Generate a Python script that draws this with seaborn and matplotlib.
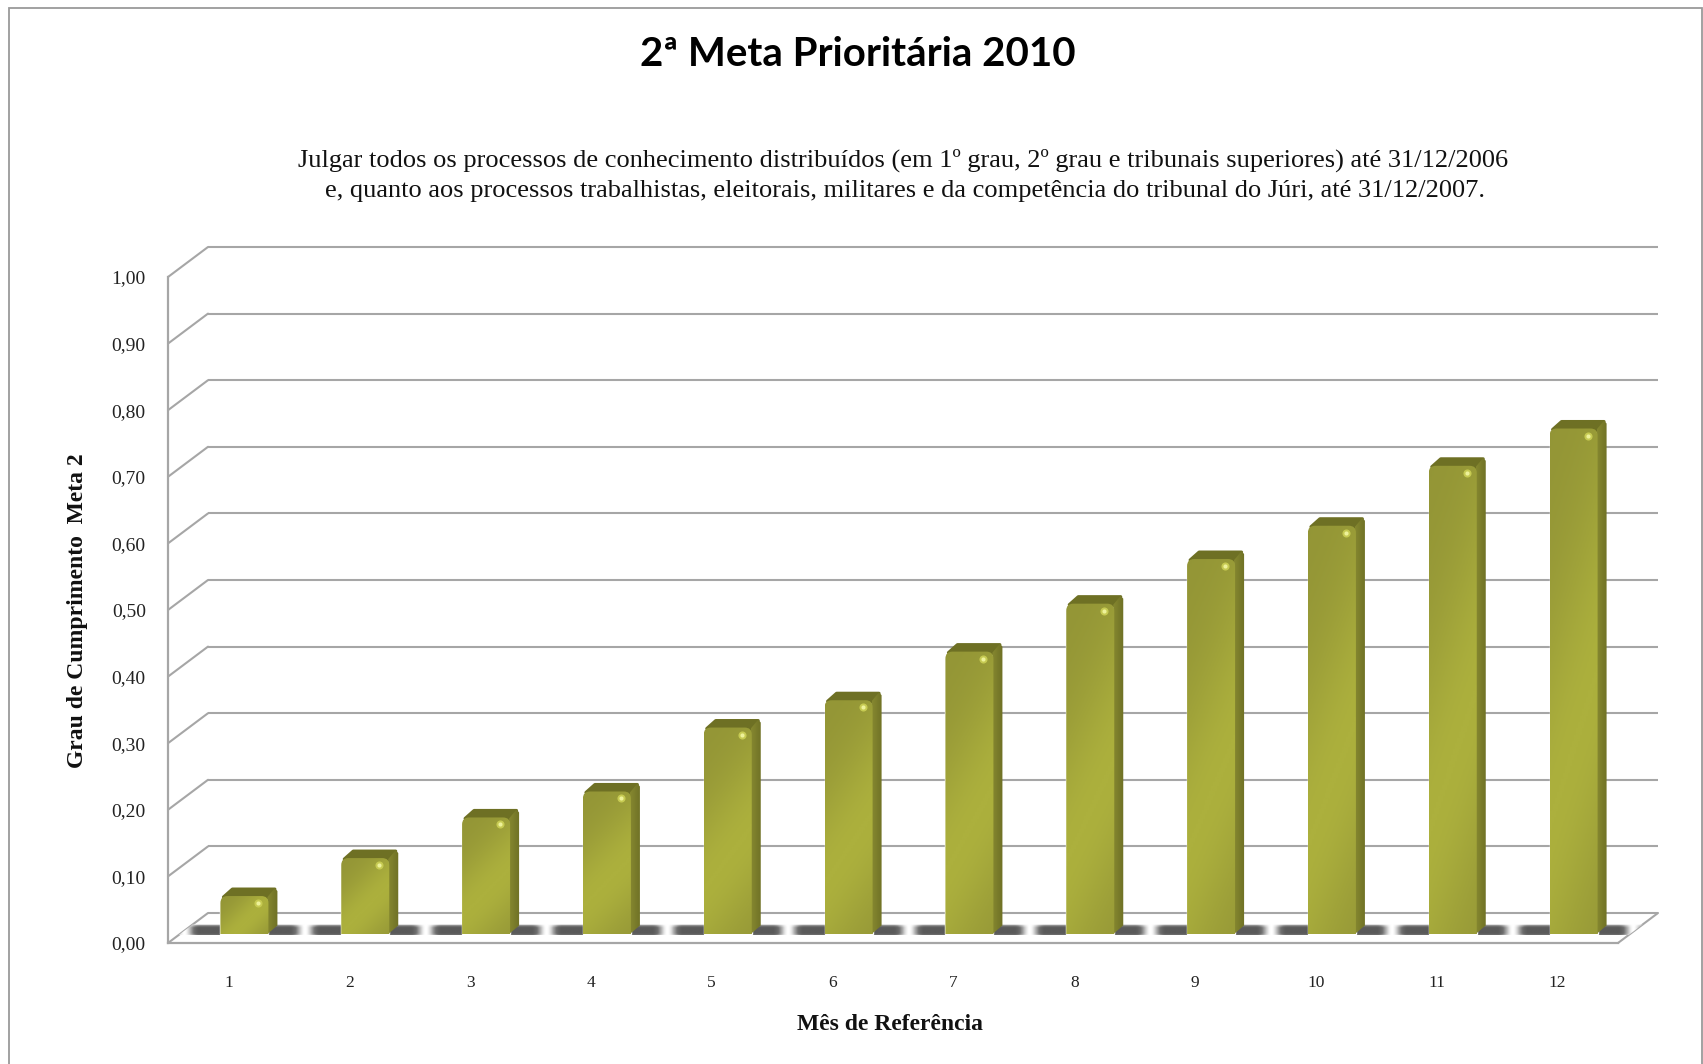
import numpy as np
import pandas as pd
import matplotlib
matplotlib.use("Agg")
import matplotlib.pyplot as plt
import seaborn as sns
from matplotlib.colors import LinearSegmentedColormap
from matplotlib.patches import PathPatch, Polygon, Rectangle
from matplotlib.path import Path

# ---- data -------------------------------------------------------------
months = ["1", "2", "3", "4", "5", "6", "7", "8", "9", "10", "11", "12"]
compliance = [0.057, 0.114, 0.175, 0.214, 0.310, 0.351, 0.424, 0.496, 0.563, 0.613, 0.703, 0.759]
y_ticks = [0.0, 0.1, 0.2, 0.3, 0.4, 0.5, 0.6, 0.7, 0.8, 0.9, 1.0]
y_tick_labels = ["0,00", "0,10", "0,20", "0,30", "0,40", "0,50", "0,60", "0,70", "0,80", "0,90", "1,00"]
title = "2ª Meta Prioritária 2010"
subtitle_1 = "Julgar todos os processos de conhecimento distribuídos (em 1º grau, 2º grau e tribunais superiores) até 31/12/2006"
subtitle_2 = "e, quanto aos processos trabalhistas, eleitorais, militares e da competência do tribunal do Júri, até 31/12/2007."
x_label = "Mês de Referência"
y_label = "Grau de Cumprimento  Meta 2"

# ---- layout (pixels of a 1703x1064 canvas) ------------------------------
W, H = 1703, 1064
L, R, B, T = 168, 1618, 943, 277
sns.set_theme(style="white")
plt.rcParams["font.family"] = ["Liberation Serif", "DejaVu Sans"]
GRID = "#a6a6a6"

fig = plt.figure(figsize=(W / 100, H / 100), dpi=100, facecolor="white")
ax = fig.add_axes([L / W, 1 - B / H, (R - L) / W, (B - T) / H])
ax.set_facecolor("none")

df = pd.DataFrame({"mes": months, "grau": compliance})
sns.barplot(data=df, x="mes", y="grau", order=months, width=48 / 120.83,
            color="#a0a23a", saturation=1, ax=ax, zorder=4, errorbar=None)
ax.set_xlim(-0.5, 11.5)
ax.set_ylim(0, 1)
sx = (R - L) / 12
sy = B - T
pxx = lambda p: p / sx
pxy = lambda p: p / sy
BX, BY = 16, 9       # bars sit this far into the floor
WX, WY = 40, 30      # back wall offset
SX, SY = 9.5, 9      # bar depth

# ---- walls ---------------------------------------------------------------
x0, x1 = -0.5, 11.5
for v in y_ticks:
    ax.plot([x0 + pxx(WX), x1 + pxx(WX)], [v + pxy(WY)] * 2, color=GRID, lw=1.5,
            clip_on=False, zorder=1, solid_capstyle="butt")
    ax.plot([x0, x0 + pxx(WX)], [v, v + pxy(WY)], color=GRID, lw=1.5, clip_on=False, zorder=1)
ax.plot([x1, x1 + pxx(WX)], [0, pxy(WY)], color=GRID, lw=1.5, clip_on=False, zorder=1)

# ---- floor shadow ----------------------------------------------------------
xs = np.linspace(x0, x1 + pxx(WX), 1800)
phase = np.abs(((xs - pxx(BX)) + 0.5) % 1 - 0.5)      # 0 at bar centre, .5 between bars
t = np.clip((0.5 - phase) / 0.13, 0, 1)
shade = t * t * (3 - 2 * t)
vert = np.clip(1.25 * np.sin(np.linspace(0.2, 1.0, 14) * np.pi / 1.05), 0, 1)[:, None]
band = np.clip(shade[None, :] * vert, 0, 1)
shadow_cmap = LinearSegmentedColormap.from_list("sh", ["#ffffff", "#b0b0b0", "#707070", "#5a5a5a"])
y_lo, y_hi = pxy(8), pxy(18.5)
im = ax.imshow(band, extent=[xs[0], xs[-1], y_lo, y_hi], origin="lower", aspect="auto",
               cmap=shadow_cmap, vmin=0, vmax=1, zorder=2, interpolation="bilinear")
clip = Polygon([(x0 + pxx(8 * WX / WY), y_lo), (x1 + pxx(8 * WX / WY), y_lo),
                (x1 + pxx(18.5 * WX / WY), y_hi), (x0 + pxx(18.5 * WX / WY), y_hi)],
               transform=ax.transData, facecolor="none", edgecolor="none", clip_on=False)
ax.add_patch(clip)
im.set_clip_box(fig.bbox)
im.set_clip_path(clip)

# ---- bars -------------------------------------------------------------------
face_cmap = LinearSegmentedColormap.from_list("f", ["#939536", "#acb03d"])
side_cmap = LinearSegmentedColormap.from_list("s", ["#858730", "#6f7125"])
CAP = "#6e7024"
R_PX = 7
for patch in list(ax.patches):
    if not isinstance(patch, Rectangle) or patch.get_height() <= 0 or patch is clip:
        continue
    patch.set_x(patch.get_x() + pxx(BX))
    patch.set_y(pxy(BY))
    bx, bw, bh = patch.get_x(), patch.get_width(), patch.get_height()
    by = patch.get_y()
    top, right = by + bh, bx + bw
    dx, dy = pxx(SX), pxy(SY)
    patch.set_height(bh - pxy(R_PX))   # rounded top is drawn by the sheen layer
    # cap and side, rounded by a thick round-joined edge
    ax.add_patch(Polygon([(bx + pxx(3), top - pxy(1)), (bx + pxx(12), top + dy - pxy(2)),
                          (right + dx - pxx(3), top + dy - pxy(2)), (right, top - pxy(2))],
                         facecolor=CAP, edgecolor=CAP, lw=2.2, joinstyle="round",
                         clip_on=False, zorder=5))
    side = Polygon([(right - pxx(1), by), (right + dx - pxx(0.5), by + dy - pxy(0.5)),
                    (right + dx - pxx(0.5), top + dy - pxy(4)), (right + dx - pxx(3), top + dy - pxy(1)),
                    (right - pxx(1), top - pxy(1))],
                   facecolor="none", edgecolor="none", transform=ax.transData)
    ax.add_patch(side)
    gs = np.linspace(0, 1, 16)[None, :]
    sim = ax.imshow(gs, extent=[right - pxx(1), right + dx, by, top + dy], origin="lower", aspect="auto",
                    cmap=side_cmap, zorder=5.5)
    sim.set_clip_path(side)
    # front face with diagonal sheen and rounded upper corners
    r = R_PX
    verts = [(bx, by), (right, by), (right, top - pxy(r)), (right, top), (right - pxx(r), top),
             (bx + pxx(r), top), (bx, top), (bx, top - pxy(r)), (bx, by)]
    codes = [Path.MOVETO, Path.LINETO, Path.LINETO, Path.CURVE3, Path.CURVE3,
             Path.LINETO, Path.CURVE3, Path.CURVE3, Path.CLOSEPOLY]
    front = PathPatch(Path(verts, codes), facecolor="none", edgecolor="none", transform=ax.transData)
    ax.add_patch(front)
    u, w = np.meshgrid(np.linspace(0, 1, 48), np.linspace(0, 1, 80))
    h_px = bh * sy
    diag = (u * 48 + (1 - w) * min(h_px, 160)) / (48 + min(h_px, 160))
    sheen = np.exp(-((diag - 0.6) / 0.32) ** 2)
    fim = ax.imshow(sheen, extent=[bx, right, by, top], origin="lower", aspect="auto",
                    cmap=face_cmap, vmin=0, vmax=1, zorder=6)
    fim.set_clip_path(front)
    # specular dot
    ax.scatter([bx + pxx(38)], [top - pxy(7)], s=34, color="#c6ca52", linewidths=0, zorder=7, clip_on=False)
    ax.scatter([bx + pxx(38)], [top - pxy(7)], s=9, color="#eef29a", linewidths=0, zorder=8, clip_on=False)

ax.set_xlim(x0, x1)
ax.set_ylim(0, 1)

# ---- axes -------------------------------------------------------------------
for s in ["top", "right"]:
    ax.spines[s].set_visible(False)
for s in ["left", "bottom"]:
    ax.spines[s].set_color(GRID)
    ax.spines[s].set_linewidth(1.6)
ax.set_yticks(y_ticks)
ax.set_yticklabels(y_tick_labels, fontsize=14, color="#222222")
ax.tick_params(axis="y", length=0, pad=16)
ax.tick_params(axis="x", length=0, pad=23, labelsize=12.5, labelcolor="#222222")
ax.set_xlabel("")
ax.set_ylabel("")
ax.grid(False)

fig.text(890 / W, 1 - 1024 / H, x_label, ha="center", va="center", fontsize=17,
         fontweight="bold", color="#111111")
fig.text(78 / W, 1 - 611 / H, y_label, rotation=90, ha="center", va="center", fontsize=17,
         fontweight="bold", color="#111111")
fig.text(858 / W, 1 - 55 / H, title, ha="center", va="center", fontsize=29,
         fontweight="bold", family=["Lato", "DejaVu Sans"], color="black")
fig.text(903 / W, 1 - 160 / H, subtitle_1, ha="center", va="center", fontsize=19, color="#111111")
fig.text(905 / W, 1 - 191 / H, subtitle_2, ha="center", va="center", fontsize=19, color="#111111")

fig.add_artist(Rectangle((9 / W, 1 - 1080 / H), (1702 - 9) / W, (1080 - 8) / H,
                         transform=fig.transFigure, fill=False, edgecolor="#9a9a9a", lw=1.3))
fig.savefig("out.png", dpi=100, facecolor="white")
